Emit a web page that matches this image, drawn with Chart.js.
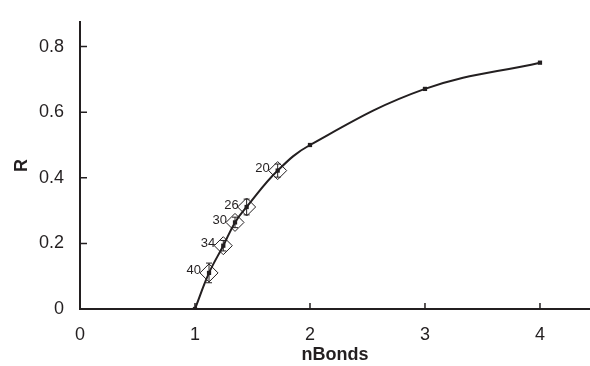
<!DOCTYPE html>
<html>
<head>
<meta charset="utf-8">
<script src="https://cdn.jsdelivr.net/npm/chart.js@4"></script>
<style>
  html, body { margin: 0; padding: 0; background: #fff; overflow: hidden; }
  canvas { display: block; }
</style>
</head>
<body>
<canvas id="chart" width="590" height="366"></canvas>
<script>
// curve through all points (small squares)
const curveX = [1, 1.122, 1.246, 1.348, 1.449, 1.719, 2, 3, 4];
const curveY = [0, 0.11, 0.193, 0.264, 0.311, 0.422, 0.5, 0.671, 0.751];

// diamonds with error bars and labels
const diamondX = [1.122, 1.246, 1.348, 1.449, 1.719];
const diamondY = [0.11, 0.193, 0.264, 0.311, 0.422];
const diamondErr = [0.03, 0.016, 0.016, 0.024, 0.02];
const diamondLabels = ['40', '34', '30', '26', '20'];

const xTicks = [0, 1, 2, 3, 4];
const yTicks = [0, 0.2, 0.4, 0.6, 0.8];

const ink = '#231f20';
const font = "'Liberation Sans', Arial, sans-serif";

const toPts = (xs, ys) => xs.map((x, i) => ({ x, y: ys[i] }));

// error bars, labels and inward tick marks
const extras = {
  id: 'extras',
  afterDatasetsDraw(chart) {
    const { ctx, scales: { x, y } } = chart;
    ctx.save();
    ctx.strokeStyle = ink;
    ctx.lineWidth = 1;
    diamondX.forEach((dx, i) => {
      const px = x.getPixelForValue(dx);
      const top = y.getPixelForValue(diamondY[i] + diamondErr[i]);
      const bot = y.getPixelForValue(diamondY[i] - diamondErr[i]);
      ctx.beginPath();
      ctx.moveTo(px, top); ctx.lineTo(px, bot);
      ctx.moveTo(px - 3, top); ctx.lineTo(px + 3, top);
      ctx.moveTo(px - 3, bot); ctx.lineTo(px + 3, bot);
      ctx.stroke();
    });
    ctx.fillStyle = ink;
    ctx.font = '13px ' + font;
    ctx.textAlign = 'right';
    ctx.textBaseline = 'middle';
    diamondX.forEach((dx, i) => {
      const px = x.getPixelForValue(dx);
      const py = y.getPixelForValue(diamondY[i]);
      ctx.fillText(diamondLabels[i], px - 8, py - 2);
    });
    ctx.lineWidth = 1.5;
    ctx.beginPath();
    xTicks.slice(1).forEach(v => {
      const px = x.getPixelForValue(v);
      ctx.moveTo(px, y.bottom); ctx.lineTo(px, y.bottom - 6);
    });
    yTicks.slice(1).forEach(v => {
      const py = y.getPixelForValue(v);
      ctx.moveTo(x.left, py); ctx.lineTo(x.left + 7, py);
    });
    ctx.stroke();
    ctx.restore();
  }
};

new Chart(document.getElementById('chart'), {
  type: 'scatter',
  data: {
    datasets: [
      {
        data: toPts(curveX, curveY),
        showLine: true,
        borderColor: ink,
        borderWidth: 2,
        tension: 0.4,
        pointStyle: 'rect',
        pointRadius: 3,
        pointBackgroundColor: ink,
        pointBorderColor: ink,
        pointBorderWidth: 0
      },
      {
        data: toPts(diamondX, diamondY),
        showLine: false,
        pointStyle: 'rectRot',
        pointRadius: 9,
        pointBackgroundColor: 'rgba(0,0,0,0)',
        pointBorderColor: ink,
        pointBorderWidth: 1
      }
    ]
  },
  options: {
    responsive: false,
    animation: false,
    layout: { autoPadding: false, padding: { top: 22, right: 0, left: 0, bottom: 0 } },
    plugins: { legend: { display: false }, tooltip: { enabled: false } },
    scales: {
      x: {
        type: 'linear',
        min: 0,
        max: 4.435,
        afterFit(s) { s.height = 57; s.paddingLeft = 0; s.paddingRight = 0; },
        afterBuildTicks(s) { s.ticks = xTicks.map(v => ({ value: v })); },
        grid: { display: false },
        border: { display: true, color: ink, width: 2 },
        ticks: {
          color: ink,
          font: { family: font, size: 18 },
          padding: 7,
          maxRotation: 0
        },
        title: {
          display: true,
          text: 'nBonds',
          color: ink,
          font: { family: font, size: 18, weight: 'bold' },
          padding: { top: 0, bottom: 0 }
        }
      },
      y: {
        type: 'linear',
        min: 0,
        max: 0.875,
        afterFit(s) { s.width = 80; s.paddingTop = 0; s.paddingBottom = 0; },
        afterBuildTicks(s) { s.ticks = yTicks.map(v => ({ value: v })); },
        grid: { display: false },
        border: { display: true, color: ink, width: 2 },
        ticks: {
          color: ink,
          font: { family: font, size: 18 },
          padding: 8,
          callback: v => (v === 0 ? '0' : v.toFixed(1))
        },
        title: {
          display: true,
          text: 'R',
          color: ink,
          font: { family: font, size: 18, weight: 'bold' },
          padding: { top: 11, bottom: 4 }
        }
      }
    }
  },
  plugins: [extras]
});
</script>
</body>
</html>
